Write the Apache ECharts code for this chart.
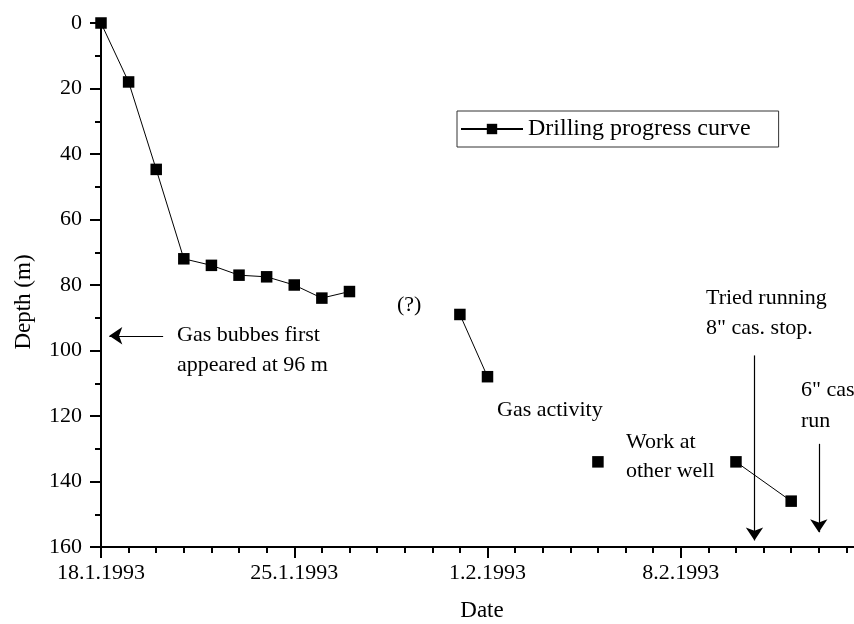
<!DOCTYPE html>
<html>
<head>
<meta charset="utf-8">
<script src="https://cdn.jsdelivr.net/npm/echarts@6/dist/echarts.min.js"></script>
<style>html,body{margin:0;padding:0;background:#fff;overflow:hidden;width:854px;height:624px}#c{width:880px;height:624px}</style>
</head>
<body>
<div id="c"></div>
<script>
// Days counted from 18.1.1993; null = gap in the curve
var days  = [0, 1, 2, 3, 4, 5, 6, 7, 8, 9, 11, 13, 14, 16, 18, 20, 23, 25];
var depth = [0, 18, 44.7, 72, 74, 77, 77.5, 80, 84, 82, null, 89, 108, null, 134, null, 134, 146];
var xTickLabels = ['18.1.1993', '25.1.1993', '1.2.1993', '8.2.1993'];
var yTicks = [0, 20, 40, 60, 80, 100, 120, 140, 160];
var seriesName = 'Drilling progress curve';
// annotation arrows: [startDay, startDepth, endDay, endDepth]
var arrows = [
  [2.25, 95.5, 0.3, 95.5],
  [23.67, 101.5, 23.67, 158],
  [26.0, 128.5, 26.0, 155.5]
];

var FONT = '"Liberation Serif", "Times New Roman", serif';
var chart = echarts.init(document.getElementById('c'), null, { width: 880, height: 624 });
var data = days.map(function (d, i) { return [d, depth[i] === null ? '-' : depth[i]]; });

function txt(t, x, y, size) {
  return { type: 'text', x: x, y: y, style: { text: t, font: (size || 22) + 'px ' + FONT, fill: '#000', verticalAlign: 'middle' } };
}

chart.setOption({
  animation: false,
  backgroundColor: '#fff',
  grid: { left: 101, top: 23, bottom: 77, right: 6, containLabel: false },
  legend: {
    data: [seriesName], left: 457, top: 111,
    padding: [6, 28, 6, 3], itemWidth: 62, itemHeight: 13, itemGap: 0,
    borderColor: '#333', borderWidth: 1,
    textStyle: { fontFamily: FONT, fontSize: 24, color: '#000' }
  },
  xAxis: {
    type: 'value', min: 0, max: 28, interval: 7, position: 'bottom',
    axisLine: { show: true, onZero: false, lineStyle: { color: '#000', width: 2 } },
    axisTick: { show: true, length: 11, lineStyle: { color: '#000', width: 2 } },
    minorTick: { show: true, splitNumber: 7, length: 6, lineStyle: { color: '#000', width: 2 } },
    splitLine: { show: false },
    axisLabel: {
      margin: 15, color: '#000', fontFamily: FONT, fontSize: 22,
      formatter: function (v) { var i = Math.round(v / 7); return (v % 7 === 0 && xTickLabels[i]) ? xTickLabels[i] : ''; }
    }
  },
  yAxis: {
    type: 'value', inverse: true, min: 0, max: 160, interval: 20,
    axisLine: { show: true, onZero: false, lineStyle: { color: '#000', width: 2 } },
    axisTick: { show: true, length: 11, lineStyle: { color: '#000', width: 2 } },
    minorTick: { show: true, splitNumber: 2, length: 6, lineStyle: { color: '#000', width: 2 } },
    splitLine: { show: false },
    axisLabel: {
      margin: 19, color: '#000', fontFamily: FONT, fontSize: 22,
      formatter: function (v) { return yTicks.indexOf(v) >= 0 ? String(v) : ''; }
    }
  },
  series: [{
    name: seriesName, type: 'line', data: data, connectNulls: false,
    symbol: 'rect', symbolSize: 11.5, showAllSymbol: true,
    itemStyle: { color: '#000' },
    lineStyle: { color: '#000', width: 1 },
    markLine: {
      silent: true, animation: false,
      symbol: ['none', 'arrow'], symbolSize: 13,
      label: { show: false },
      emphasis: { disabled: true },
      lineStyle: { color: '#000', width: 1.2, type: 'solid' },
      data: arrows.map(function (a) { return [{ coord: [a[0], a[1]] }, { coord: [a[2], a[3]] }]; })
    }
  }],
  graphic: [
    { type: 'text', x: 24, y: 302, rotation: Math.PI / 2,
      style: { text: 'Depth (m)', font: '23px ' + FONT, fill: '#000', align: 'center', verticalAlign: 'middle' } },
    { type: 'text', x: 482, y: 611,
      style: { text: 'Date', font: '23px ' + FONT, fill: '#000', align: 'center', verticalAlign: 'middle' } },
    txt('(?)', 397, 305),
    txt('Gas bubbes first', 177, 335),
    txt('appeared at 96 m', 177, 365),
    txt('Gas activity', 497, 410),
    txt('Work at', 626, 442),
    txt('other well', 626, 471),
    txt('Tried running', 706, 298),
    txt('8" cas. stop.', 706, 328),
    txt('6" cas', 801, 390),
    txt('run', 801, 421)
  ]
});
</script>
</body>
</html>
